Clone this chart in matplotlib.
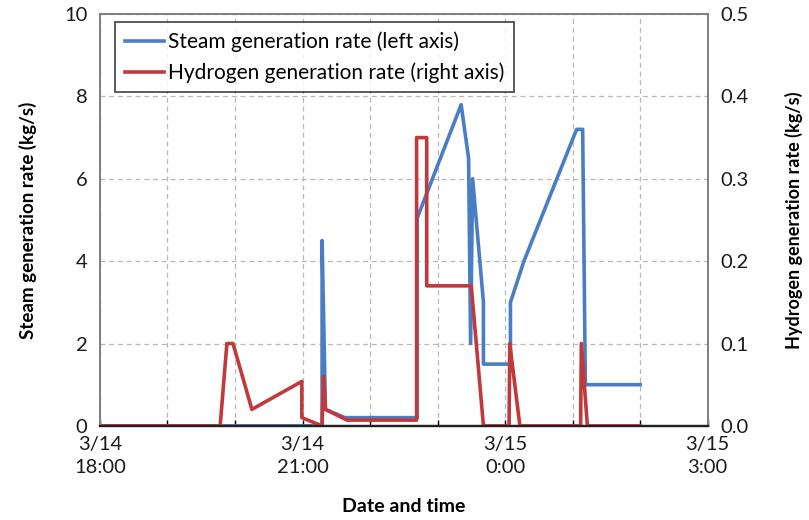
import matplotlib
matplotlib.use('Agg')
import matplotlib.pyplot as plt
from matplotlib.ticker import MultipleLocator

plt.rcParams['font.family'] = ['Lato', 'DejaVu Sans']

# hours after 3/14 18:00
steam_t = [0.0, 3.29, 3.29, 3.34, 3.63, 4.70, 4.70, 5.35, 5.46, 5.49, 5.52,
           5.68, 5.68, 6.08, 6.08, 6.28, 7.06, 7.15, 7.19, 8.0]
steam_v = [0.0, 0.0, 4.5, 0.4, 0.2, 0.2, 5.05, 7.8, 6.5, 2.0, 6.0,
           3.0, 1.5, 1.5, 3.0, 4.0, 7.2, 7.2, 1.0, 1.0]

h2_t = [0.0, 1.78, 1.88, 1.97, 2.25, 2.99, 2.99, 3.29, 3.31, 3.34, 3.66,
        4.69, 4.69, 4.84, 4.84, 5.50, 5.68, 6.06, 6.07, 6.22, 7.12, 7.13,
        7.22, 8.0]
h2_v = [0.0, 0.0, 0.1, 0.1, 0.02, 0.054, 0.01, 0.0, 0.06, 0.02, 0.007,
        0.007, 0.35, 0.35, 0.17, 0.17, 0.0, 0.0, 0.1, 0.0, 0.0, 0.1,
        0.0, 0.0]

tick_pos = [0, 3, 6, 9]
tick_labels = ['3/14\n18:00', '3/14\n21:00', '3/15\n0:00', '3/15\n3:00']

blue = '#4A7EC4'
red = '#C0393B'

fig = plt.figure(figsize=(8.09, 5.20), dpi=100)
ax = fig.add_axes([0.1236, 0.181, 0.751, 0.792])
ax2 = ax.twinx()

l1, = ax.plot(steam_t, steam_v, color=blue, lw=2.6,
              label='Steam generation rate (left axis)')
l2, = ax2.plot(h2_t, h2_v, color=red, lw=2.6,
               label='Hydrogen generation rate (right axis)')

ax.set_xlim(0, 9)
ax.set_ylim(0, 10)
ax2.set_ylim(0, 0.5)
ax.set_yticks([0, 2, 4, 6, 8, 10])
ax2.set_yticks([0, 0.1, 0.2, 0.3, 0.4, 0.5])
ax2.set_yticklabels(['0.0', '0.1', '0.2', '0.3', '0.4', '0.5'])
ax.set_xticks(tick_pos)
ax.set_xticklabels(tick_labels, linespacing=1.45)
ax.xaxis.set_minor_locator(MultipleLocator(1))

ax.grid(True, which='both', axis='x', color='#b8b8b8', ls=(0, (4, 3)), lw=0.9)
ax.grid(True, axis='y', color='#b8b8b8', ls=(0, (4, 3)), lw=0.9)
ax.set_axisbelow(True)

ax.tick_params(axis='y', length=0, pad=9, labelsize=14.5, labelcolor='#1a1a1a')
ax2.tick_params(axis='y', length=0, pad=9, labelsize=14.5, labelcolor='#1a1a1a')
ax.tick_params(axis='x', which='both', direction='in', length=4, width=1,
               pad=7, labelsize=14.5, labelcolor='#1a1a1a')
ax.tick_params(axis='x', which='minor', labelbottom=False)

for a in (ax, ax2):
    for s in ('top', 'left', 'right'):
        a.spines[s].set_color('#808080')
        a.spines[s].set_linewidth(1.3)
    a.spines['bottom'].set_color('#222222')
    a.spines['bottom'].set_linewidth(1.6)

ax.set_xlabel('Date and time', fontsize=14, fontweight='bold')
ax.xaxis.set_label_coords(0.5, -0.174)
ax.set_ylabel('Steam generation rate (kg/s)', fontsize=13.5, fontweight='bold')
ax.yaxis.set_label_coords(-0.104, 0.5)
ax2.set_ylabel('Hydrogen generation rate (kg/s)', fontsize=13,
               fontweight='bold', rotation=90)
ax2.yaxis.set_label_coords(1.128, 0.5)

leg = ax2.legend(handles=[l1, l2], loc='upper left',
                 bbox_to_anchor=(0.025, 0.981), fontsize=15, frameon=True,
                 fancybox=False, edgecolor='#222222', handlelength=1.9,
                 handletextpad=0.2, borderpad=0.45, labelspacing=0.5,
                 borderaxespad=0)
leg.get_frame().set_linewidth(1.3)
for h in leg.get_lines():
    h.set_linewidth(2.6)

fig.savefig('out.png', dpi=100)
